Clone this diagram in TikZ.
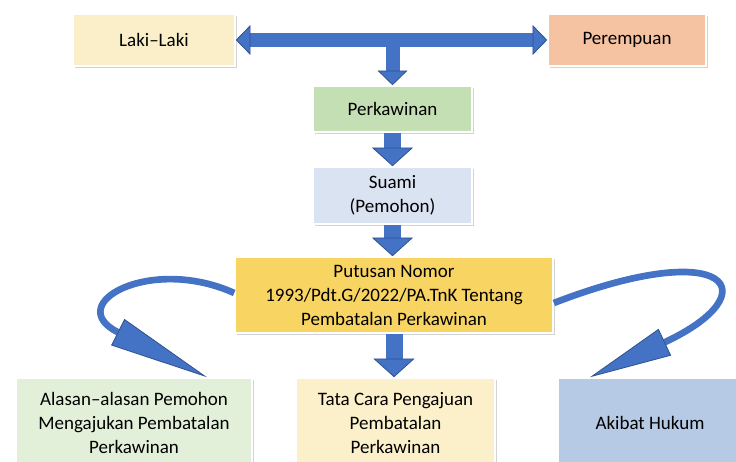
\documentclass[tikz,border=0pt]{standalone}
\usepackage{fontspec}
\setmainfont{Carlito}
\usetikzlibrary{arrows.meta,shadows,calc}

\definecolor{lakicol}{HTML}{FAEFC8}
\definecolor{perempuancol}{HTML}{F5C2A2}
\definecolor{kawincol}{HTML}{C4DFB3}
\definecolor{suamicol}{HTML}{DAE3F2}
\definecolor{putusancol}{HTML}{F8D462}
\definecolor{alasancol}{HTML}{E2EFD9}
\definecolor{tatacol}{HTML}{FBF0CA}
\definecolor{akibatcol}{HTML}{B6CAE6}
\definecolor{arrowblue}{HTML}{4472C4}
\definecolor{arrowedge}{HTML}{2F528F}

\begin{document}
\begin{tikzpicture}[x=0.75pt,y=0.75pt,yscale=-1,xscale=1,
  box/.style={draw=white, line width=1.2pt, align=center, inner sep=0.75pt,
    font=\fontsize{14.25pt}{18pt}\selectfont,
    drop shadow={opacity=0.35, shadow xshift=1.5pt, shadow yshift=-1.5pt}},
  topblock/.style={draw=arrowblue, line width=10.5pt},
  midblock/.style={draw=arrowblue, line width=12.75pt,
    -{Triangle[length=14pt, width=31pt, fill=arrowblue, color=arrowedge, line width=0.6pt]}},
  curvearrow/.style={draw=arrowblue, line width=5pt,
    -{Triangle[length=#1, width=22pt, fill=arrowblue, color=arrowedge, line width=0.6pt]}}]
\useasboundingbox (0,0) rectangle (736,461);

% Text Node
\node [box, fill=lakicol, minimum width=121.5pt, minimum height=39pt] (laki) at (154,40) {Laki–Laki};
% Text Node
\node [box, fill=perempuancol, minimum width=118.5pt, minimum height=39pt] (perempuan) at (627,40) {Perempuan};
% Text Node
\node [box, fill=kawincol, minimum width=119pt, minimum height=34.5pt] (kawin) at (392.5,109) {Perkawinan};
% Text Node
\node [box, fill=suamicol, minimum width=119pt, minimum height=42.75pt] (suami) at (392.5,195.5) {Suami\\(Pemohon)};
% Text Node
\node [box, fill=putusancol, minimum width=238.5pt, minimum height=57pt] (putusan) at (394,295) {Putusan Nomor\\1993/Pdt.G/2022/PA.TnK Tentang\\Pembatalan Perkawinan};
% Text Node
\node [box, fill=alasancol, minimum width=177pt, minimum height=67.5pt] (alasan) at (134,423) {Alasan–alasan Pemohon\\Mengajukan Pembatalan\\Perkawinan};
% Text Node
\node [box, fill=tatacol, minimum width=149pt, minimum height=67.5pt] (tata) at (395.5,423) {Tata Cara Pengajuan\\Pembatalan\\Perkawinan};
% Text Node
\node [box, fill=akibatcol, minimum width=138pt, minimum height=67.5pt] (akibat) at (650,423) {Akibat Hukum};

% Connection
\draw [topblock, {Triangle[length=11pt, width=22.5pt, fill=arrowblue, color=arrowedge, line width=0.6pt]}-{Triangle[length=11pt, width=22.5pt, fill=arrowblue, color=arrowedge, line width=0.6pt]}] (laki.east) -- (perempuan.west) ;
% Connection
\draw [topblock, -{Triangle[length=11pt, width=22.5pt, fill=arrowblue, color=arrowedge, line width=0.6pt]}] (kawin.north |- laki.east) -- (kawin.north) ;
% Connection
\draw [midblock] (kawin.south) -- (suami.north) ;
% Connection
\draw [midblock] (suami.south) -- (putusan.north -| suami.south) ;
% Connection
\draw [midblock] (putusan.south) -- (putusan.south |- tata.north) ;
% Connection
\draw [curvearrow=75pt] ($(putusan.west)+(0,-2)$) .. controls (150,255) and (62,304) .. ($(alasan.north)+(73,0)$) ;
% Connection
\draw [curvearrow=62pt] ($(putusan.east)+(0,8)$) .. controls (730,235) and (770,293) .. ($(akibat.north)+(-60,0)$) ;

\end{tikzpicture}
\end{document}
